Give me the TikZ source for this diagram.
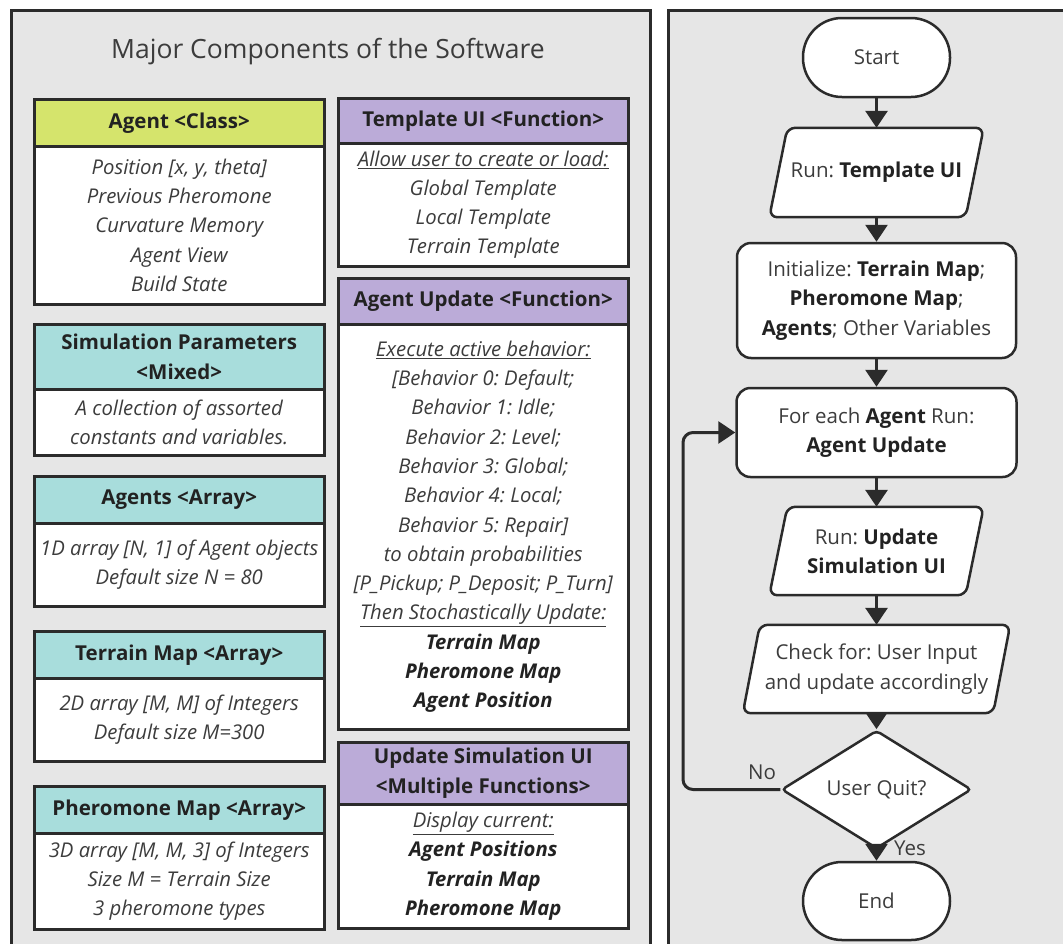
\documentclass[tikz,border=0pt]{standalone}
\usepackage{fontspec}
\setmainfont{Open Sans}
\usetikzlibrary{shapes.geometric,arrows.meta}
\definecolor{panelc}{HTML}{E6E6E6}
\definecolor{edgec}{HTML}{2B2B2B}
\definecolor{txtc}{HTML}{3C3C3C}
\definecolor{hdtxt}{HTML}{222222}
\definecolor{agentc}{HTML}{D5E46C}
\definecolor{tealc}{HTML}{A8DDDC}
\definecolor{purplec}{HTML}{BBABD8}
\newcommand{\boldpart}[1]{{\bfseries\color{hdtxt}#1}}
\pgfdeclarelayer{panellayer}
\pgfdeclarelayer{shapelayer}
\pgfsetlayers{panellayer,shapelayer,main}
\frenchspacing
\begin{document}
\frenchspacing
\begin{tikzpicture}[x=1pt,y=-1pt,
  hdr/.style={draw=edgec, line width=2.5pt, anchor=north west, minimum width=290pt, inner sep=0pt, align=center, text=hdtxt, font=\fontsize{20.5}{30}\selectfont\bfseries},
  bod/.style={draw=edgec, line width=2.5pt, fill=white, anchor=north west, minimum width=290pt, inner sep=0pt, align=center, text=txtc, font=\fontsize{20.3}{29.3}\selectfont\itshape},
  fl/.style={draw=edgec, line width=2.5pt, fill=white, align=center, text=txtc, inner sep=0pt, font=\fontsize{20.5}{29.3}\selectfont},
  stad/.style={fl, rounded corners=39pt, minimum width=147pt, minimum height=79pt},
  paratext/.style={align=center, text=txtc, inner sep=0pt, font=\fontsize{20.5}{29.3}\selectfont, minimum height=89pt},
  parashape/.style={draw=edgec, line width=2.5pt, fill=white, rounded corners=8pt},
  rbox/.style={fl, rounded corners=14pt},
  dec/.style={fl, diamond, minimum width=190pt, minimum height=95pt, rounded corners=4pt},
  arr/.style={draw=edgec, line width=3pt, -{Triangle[width=22pt,length=17pt]}},
  lbl/.style={text=txtc, inner sep=0pt, font=\fontsize{20.5}{24}\selectfont}
]
\clip (0,0) rectangle (1063,943);
\begin{pgfonlayer}{panellayer}
\fill[white] (0,0) rectangle (1063,943);
\draw[draw=edgec, line width=3pt, fill=panelc] (11,10) rectangle (650,990);
\draw[draw=edgec, line width=3pt, fill=panelc] (668,10) rectangle (1100,990);
\end{pgfonlayer}
\node[text=txtc, inner sep=0pt, font=\fontsize{26.5}{30}\selectfont] (title) at (328,52) {Major Components of the Software};
% left column
\node[hdr, fill=agentc, minimum height=47pt] (agH) at (33,98) {Agent <Class>};
\node[bod, minimum height=158pt] (agB) at (33,145) {Position {[}x, y, theta{]}\\ Previous Pheromone\\ Curvature Memory\\ Agent View\\ Build State};
\node[hdr, fill=tealc, minimum height=65pt] (spH) at (33,323) {Simulation Parameters\\ <Mixed>};
\node[bod, minimum height=66pt] (spB) at (33,388) {A collection of assorted\\ constants and variables.};
\node[hdr, fill=tealc, minimum height=47pt] (arH) at (33,475) {Agents <Array>};
\node[bod, minimum height=83pt] (arB) at (33,522) {1D array {[}N, 1{]} of Agent objects\\ Default size N = 80};
\node[hdr, fill=tealc, minimum height=47pt] (tmH) at (33,630) {Terrain Map <Array>};
\node[bod, minimum height=83pt] (tmB) at (33,677) {2D array {[}M, M{]} of Integers\\ Default size M=300};
\node[hdr, fill=tealc, minimum height=47pt] (pmH) at (33,785) {Pheromone Map <Array>};
\node[bod, minimum height=96pt] (pmB) at (33,832) {3D array {[}M, M, 3{]} of Integers\\ Size M = Terrain Size\\ 3 pheromone types};
% middle column
\node[hdr, fill=purplec, minimum height=45pt] (tuH) at (337,97) {Template UI <Function>};
\node[bod, minimum height=123pt] (tuB) at (337,142) {\underline{Allow user to create or load:}\\ Global Template\\ Local Template\\ Terrain Template};
\node[hdr, fill=purplec, minimum height=46pt] (auH) at (337,277) {Agent Update <Function>};
\node[bod, minimum height=405pt] (auB) at (337,323) {\underline{Execute active behavior:}\\ {[}Behavior 0: Default;\\ Behavior 1: Idle;\\ Behavior 2: Level;\\ Behavior 3: Global;\\ Behavior 4: Local;\\ Behavior 5: Repair{]}\\ to obtain probabilities\\ {[}P\_Pickup; P\_Deposit; P\_Turn{]}\\ \underline{Then Stochastically Update:}\\ \boldpart{Terrain Map}\\ \boldpart{Pheromone Map}\\ \boldpart{Agent Position}};
\node[hdr, fill=purplec, minimum height=62pt] (usH) at (337,741) {Update Simulation UI\\ <Multiple Functions>};
\node[bod, minimum height=124pt] (usB) at (337,803) {\underline{Display current:}\\ \boldpart{Agent Positions}\\ \boldpart{Terrain Map}\\ \boldpart{Pheromone Map}};
% flowchart
\node[stad] (st) at (876.5,57.5) {Start};
\node[paratext, minimum width=196pt] (rt) at (876.5,172.5) {Run: \boldpart{Template UI}};
\node[rbox, minimum width=279pt, minimum height=115pt] (init) at (876.5,300.5) {Initialize: \boldpart{Terrain Map};\\ \boldpart{Pheromone Map};\\ \boldpart{Agents}; Other Variables};
\node[rbox, minimum width=280pt, minimum height=89pt] (fe) at (876.5,432.5) {For each \boldpart{Agent} Run:\\ \boldpart{Agent Update}};
\node[paratext, minimum width=196pt, minimum height=88pt] (ru) at (876.5,551) {Run: \boldpart{Update}\\ \boldpart{Simulation UI}};
\node[paratext, minimum width=250pt, minimum height=88pt] (ck) at (876.5,669) {Check for: User Input\\ and update accordingly};
\node[dec] (dq) at (876.5,789.5) {User Quit?};
\node[stad, minimum height=78pt] (en) at (876.5,901) {End};
\begin{pgfonlayer}{shapelayer}
\path[parashape] ([xshift=-9pt]rt.south west) -- ([xshift=9pt]rt.north west) -- ([xshift=9pt]rt.north east) -- ([xshift=-9pt]rt.south east) -- cycle;
\path[parashape] ([xshift=-9pt]ru.south west) -- ([xshift=9pt]ru.north west) -- ([xshift=9pt]ru.north east) -- ([xshift=-9pt]ru.south east) -- cycle;
\path[parashape] ([xshift=-8.5pt]ck.south west) -- ([xshift=8.5pt]ck.north west) -- ([xshift=8.5pt]ck.north east) -- ([xshift=-8.5pt]ck.south east) -- cycle;
\end{pgfonlayer}
\coordinate (loopc) at (683,789.5);
\draw[arr] (st) -- (rt);
\draw[arr] (rt) -- (init);
\draw[arr] (init) -- (fe);
\draw[arr] (fe) -- (ru);
\draw[arr] (ru) -- (ck);
\draw[arr] (ck) -- (dq);
\draw[arr] (dq.south) -- (en.north);
\draw[arr, rounded corners=10pt] (dq.west) -- (loopc) |- (fe.west);
\node[lbl] (no) at (762,772) {No};
\node[lbl] (yes) at (910,848) {Yes};
\end{tikzpicture}
\end{document}
